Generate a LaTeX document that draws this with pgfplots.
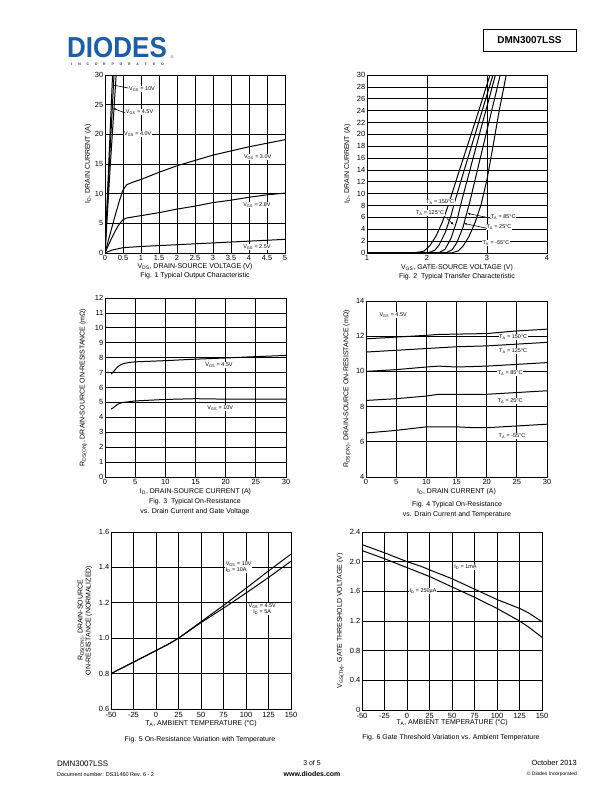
\documentclass[border=0pt]{standalone}
\usepackage{fontspec}
\setmainfont{Liberation Sans}
\usepackage{pgfplots}
\pgfplotsset{compat=1.18}
\usetikzlibrary{arrows.meta}
\definecolor{diodesblue}{HTML}{1D5FA6}

\pgfplotsset{
  sheet/.style={
    scale only axis, anchor=south west,
    grid=major,
    major grid style={black, line width=0.7pt},
    axis line style={black, line width=0.8pt},
    tick style={draw=none},
    tick label style={font=\fontsize{7.5}{8}\selectfont, inner sep=1.5pt},
    xticklabel style={yshift=-1pt},
    label style={font=\fontsize{7}{8}\selectfont},
    /pgf/number format/assume math mode=true,
    every axis plot post/.append style={black, solid, line width=1pt, mark=none},
  }
}
\tikzset{
  lbl/.style={font=\fontsize{5.5}{6}\selectfont, fill=white, inner sep=0.6pt},
  arr/.style={-{Latex[length=3pt,width=2.2pt]}, line width=0.6pt},
  figcap/.style={font=\fontsize{7}{8}\selectfont, inner sep=0pt},
}

\begin{document}
\begin{tikzpicture}
\fill[white] (0,0) rectangle (612bp,-792bp);

% header
\node[anchor=south west, inner sep=0, text=diodesblue, font=\fontsize{29}{29}\bfseries\selectfont, xscale=0.9] at (67bp,-58bp) {DIODES};
\foreach \c [count=\i] in {I,N,C,O,R,P,O,R,A,T,E,D}
  \node[font=\fontsize{3.5}{4}\bfseries\selectfont, text=black!80, inner sep=0] at ({(63+8.3*\i)*1bp}, -64bp) {\c};
\node[font=\fontsize{4}{4}\selectfont, text=diodesblue, inner sep=0] at (172bp,-57bp) {®};
\node[draw, line width=0.8pt, minimum width=93bp, minimum height=22bp, inner sep=0,
      font=\fontsize{10}{12}\bfseries\selectfont] at (529.5bp,-40bp) {DMN3007LSS};

% Fig 1
\begin{axis}[sheet, at={(105bp,-253bp)}, width=180bp, height=178bp,
  xmin=0, xmax=5, ymin=0, ymax=30,
  xtick={0,0.5,1,1.5,2,2.5,3,3.5,4,4.5,5}, xticklabels={0,0.5,1,1.5,2,2.5,3,3.5,4,4.5,5},
  ytick={0,5,10,15,20,25,30},
  xlabel={V\textsubscript{DS}, DRAIN-SOURCE VOLTAGE (V)},
  ylabel={I\textsubscript{D}, DRAIN CURRENT (A)},
  xlabel style={at={(axis description cs:0.5,-0.079)}, anchor=center},
  ylabel style={at={(axis description cs:-0.094,0.5)}, anchor=center},
]
\addplot coordinates {(0,0) (0.1,14.5) (0.21,30)};
\addplot coordinates {(0,0) (0.12,14.8) (0.25,30)};
\addplot coordinates {(0,0) (0.15,15) (0.31,30)};
\addplot coordinates {(0,0) (0.1,2.3) (0.2,4.5) (0.3,6.7) (0.4,8.8) (0.5,10.6) (0.6,11.5) (0.8,12.0) (1,12.4) (1.5,13.6) (2,14.7) (2.5,15.6) (3,16.5) (3.5,17.2) (4,17.9) (4.5,18.5) (5,19.1)};
\addplot coordinates {(0,0) (0.1,1.4) (0.2,2.7) (0.3,3.9) (0.4,4.9) (0.5,5.6) (0.6,5.9) (1,6.3) (1.5,6.8) (2,7.4) (2.5,7.9) (3,8.5) (3.5,8.9) (4,9.4) (4.5,9.8) (5,10.1)};
\addplot coordinates {(0,0) (0.2,0.5) (0.5,0.9) (1,1.1) (2,1.4) (3,1.7) (4,2.0) (5,2.3)};
\node[lbl, anchor=west] at (axis cs:0.65,27.6) {V\textsubscript{GS} = 10V};
\node[lbl, anchor=west] at (axis cs:0.56,23.8) {V\textsubscript{GS} = 4.5V};
\node[lbl, anchor=west] at (axis cs:0.51,20.0) {V\textsubscript{GS} = 4.0V};
\draw[arr] (axis cs:0.65,27.8) -- (axis cs:0.23,28.3);
\draw[arr] (axis cs:0.56,23.6) -- (axis cs:0.22,24.4);
\node[lbl] at (axis cs:4.24,16.2) {V\textsubscript{GS} = 3.0V};
\node[lbl] at (axis cs:4.22,8.1) {V\textsubscript{GS} = 2.8V};
\node[lbl] at (axis cs:4.22,1.0) {V\textsubscript{GS} = 2.5V};
\end{axis}
\node[figcap] at (195bp,-276bp) {Fig. 1 Typical Output Characteristic};

% Fig 2
\begin{axis}[sheet, at={(367bp,-253bp)}, width=180bp, height=178bp,
  xmin=1, xmax=4, ymin=0, ymax=30,
  xtick={1,2,3,4}, ytick={0,2,...,30},
  xlabel={V\textsubscript{GS}, GATE-SOURCE VOLTAGE (V)},
  ylabel={I\textsubscript{D}, DRAIN CURRENT (A)},
  xlabel style={at={(axis description cs:0.5,-0.084)}, anchor=center},
  ylabel style={at={(axis description cs:-0.11,0.5)}, anchor=center},
]
\addplot coordinates {(1,0.05) (1.5,0.05) (1.8,0.08) (1.9,0.2) (1.95,0.32) (2.05,1.27) (2.15,2.85) (2.25,5.07) (2.35,7.9) (2.45,11.1) (2.6,15.8) (2.8,22.0) (3.0,28.4) (3.05,30)};
\addplot coordinates {(1,0.03) (1.9,0.05) (2.03,0.08) (2.13,0.46) (2.2,1.33) (2.3,3.35) (2.4,6.3) (2.47,8.9) (2.6,13.3) (2.8,19.95) (3.0,26.7) (3.1,30)};
\addplot coordinates {(1,0.02) (2.1,0.04) (2.2,0.06) (2.3,0.62) (2.4,2.46) (2.5,5.5) (2.58,8.9) (2.7,13.4) (2.9,21.0) (3.05,26.6) (3.14,30)};
\addplot coordinates {(1,0.02) (2.2,0.03) (2.32,0.05) (2.42,0.56) (2.5,1.8) (2.6,4.36) (2.72,8.9) (2.85,14.4) (3.0,20.7) (3.15,27.0) (3.22,30)};
\addplot coordinates {(1,0.01) (2.3,0.02) (2.42,0.04) (2.52,0.36) (2.6,1.15) (2.7,2.8) (2.8,5.1) (2.9,8.1) (3.0,12.4) (3.1,18.0) (3.2,23.8) (3.32,30)};
\node[lbl] at (axis cs:2.22,8.65) {T\textsubscript{A} = 150°C};
\node[lbl] at (axis cs:2.05,6.69) {T\textsubscript{A} = 125°C};
\node[lbl] at (axis cs:3.27,6.1) {T\textsubscript{A} = 85°C};
\node[lbl] at (axis cs:3.2,4.43) {T\textsubscript{A} = 25°C};
\node[lbl] at (axis cs:3.15,1.63) {T\textsubscript{A} = -55°C};
\draw[arr] (axis cs:2.33,5.85) -- (axis cs:2.45,4.72);
\draw[arr] (axis cs:3.07,5.85) -- (axis cs:2.67,6.69);
\draw[arr] (axis cs:3.0,4.16) -- (axis cs:2.61,5.0);
\end{axis}
\node[figcap] at (457bp,-277bp) {Fig. 2\ \ Typical Transfer Characteristic};

% Fig 3
\begin{axis}[sheet, at={(105bp,-477bp)}, width=181bp, height=179bp,
  xmin=0, xmax=30, ymin=0, ymax=12,
  xtick={0,5,...,30}, ytick={0,1,...,12},
  xlabel={I\textsubscript{D}, DRAIN-SOURCE CURRENT (A)},
  ylabel={R\textsubscript{DS(ON)}, DRAIN-SOURCE ON-RESISTANCE (mΩ)},
  xlabel style={at={(axis description cs:0.5,-0.084)}, anchor=center},
  ylabel style={at={(axis description cs:-0.12,0.5)}, anchor=center},
]
\addplot coordinates {(1,6.9) (1.5,7.1) (2,7.35) (2.5,7.5) (3,7.6) (4,7.68) (5,7.72) (7.5,7.76) (10,7.8) (15,7.9) (20,7.98) (25,8.07) (30,8.15)};
\addplot coordinates {(1,4.55) (1.5,4.68) (2,4.85) (2.5,4.95) (3,5.0) (4,5.05) (5,5.1) (10,5.2) (15,5.25) (20,5.22) (25,5.22) (30,5.22)};
\node[lbl] at (axis cs:18.9,7.5) {V\textsubscript{GS} = 4.5V};
\node[lbl] at (axis cs:19.1,4.62) {V\textsubscript{GS} = 10V};
\end{axis}
\node[figcap] at (195bp,-502bp) {Fig. 3\ \ Typical On-Resistance};
\node[figcap] at (195bp,-512bp) {vs. Drain Current and Gate Voltage};

% Fig 4
\begin{axis}[sheet, at={(366bp,-477bp)}, width=181bp, height=176bp,
  xmin=0, xmax=30, ymin=4, ymax=14,
  xtick={0,5,...,30}, ytick={4,6,...,14},
  xlabel={I\textsubscript{D}, DRAIN CURRENT (A)},
  ylabel={R\textsubscript{DS(ON)}, DRAIN-SOURCE ON-RESISTANCE (mΩ)},
  xlabel style={at={(axis description cs:0.5,-0.085)}, anchor=center},
  ylabel style={at={(axis description cs:-0.105,0.5)}, anchor=center},
]
\addplot coordinates {(0,11.85) (5,11.95) (10,12.05) (12,12.1) (20,12.15) (25,12.3) (30,12.4)};
\addplot coordinates {(0,11.1) (5,11.2) (10,11.3) (15,11.4) (20,11.45) (25,11.55) (30,11.65)};
\addplot coordinates {(0,10.0) (5,10.1) (10,10.25) (12,10.3) (15,10.25) (20,10.3) (25,10.4) (30,10.5)};
\addplot coordinates {(0,8.35) (5,8.45) (10,8.6) (12,8.7) (20,8.7) (25,8.8) (30,8.9)};
\addplot coordinates {(0,6.5) (5,6.65) (10,6.85) (15,6.85) (18,6.8) (20,6.8) (25,6.9) (30,7.0)};
\node[lbl] at (axis cs:4.5,13.2) {V\textsubscript{GS} = 4.5V};
\node[lbl] at (axis cs:24.4,11.95) {T\textsubscript{A} = 150°C};
\node[lbl] at (axis cs:24.4,11.16) {T\textsubscript{A} = 125°C};
\node[lbl] at (axis cs:23.9,9.9) {T\textsubscript{A} = 85°C};
\node[lbl] at (axis cs:23.9,8.3) {T\textsubscript{A} = 25°C};
\node[lbl] at (axis cs:24.2,6.33) {T\textsubscript{A} = -55°C};
\end{axis}
\node[figcap] at (457bp,-505bp) {Fig. 4 Typical On-Resistance};
\node[figcap] at (457bp,-515bp) {vs. Drain Current and Temperature};

% Fig 5
\begin{axis}[sheet, at={(111bp,-709bp)}, width=180bp, height=177bp,
  xmin=-50, xmax=150, ymin=0.6, ymax=1.6,
  xtick={-50,-25,...,150}, ytick={0.6,0.8,...,1.6},
  xticklabel style={yshift=-1pt},
  yticklabel style={/pgf/number format/.cd, fixed, fixed zerofill, precision=1},
  xlabel={T\textsubscript{A}, AMBIENT TEMPERATURE (°C)},
  ylabel={R\textsubscript{DS(ON)}, DRAIN-SOURCE\\ON-RESISTANCE (NORMALIZED)},
  xlabel style={at={(axis description cs:0.5,-0.085)}, anchor=center},
  ylabel style={at={(axis description cs:-0.145,0.5)}, anchor=center, align=center},
]
\addplot coordinates {(-50,0.8) (-25,0.865) (0,0.93) (15,0.97) (25,1.0) (50,1.093) (75,1.185) (100,1.282) (125,1.38) (150,1.475)};
\addplot coordinates {(-50,0.8) (-25,0.865) (0,0.93) (15,0.97) (25,1.0) (50,1.088) (75,1.17) (100,1.255) (125,1.343) (150,1.435)};
\node[lbl, align=left, anchor=west] at (axis cs:76.7,1.4) {V\textsubscript{GS} = 10V\\I\textsubscript{D} = 10A};
\node[lbl, align=center, anchor=west] at (axis cs:102,1.165) {V\textsubscript{GS} = 4.5V\\I\textsubscript{D} = 5A};
\end{axis}
\node[figcap] at (200bp,-740bp) {Fig. 5 On-Resistance Variation with Temperature};

% Fig 6
\begin{axis}[sheet, at={(362bp,-710bp)}, width=180bp, height=178bp,
  xmin=-50, xmax=150, ymin=0, ymax=2.4,
  xtick={-50,-25,...,150}, ytick={0,0.4,0.8,1.2,1.6,2.0,2.4},
  yticklabels={0,0.4,0.8,1.2,1.6,2.0,2.4},
  xticklabel style={yshift=-1pt},
  xlabel={T\textsubscript{A}, AMBIENT TEMPERATURE (°C)},
  ylabel={V\textsubscript{GS(TH)}, GATE THRESHOLD VOLTAGE (V)},
  xlabel style={at={(axis description cs:0.5,-0.073)}, anchor=center},
  ylabel style={at={(axis description cs:-0.12,0.5)}, anchor=center},
]
\addplot coordinates {(-50,2.23) (-25,2.12) (0,2.0) (15,1.94) (25,1.89) (50,1.77) (75,1.63) (100,1.49) (125,1.37) (135,1.31) (150,1.19)};
\addplot coordinates {(-50,2.15) (-25,2.04) (0,1.92) (25,1.8) (50,1.66) (75,1.52) (100,1.37) (125,1.2) (135,1.12) (150,0.98)};
\node[lbl] at (axis cs:65,1.93) {I\textsubscript{D} = 1mA};
\node[lbl] at (axis cs:17.8,1.6) {I\textsubscript{D} = 250µA};
\end{axis}
\node[figcap] at (451bp,-738bp) {Fig. 6 Gate Threshold Variation vs. Ambient Temperature};

% footer
\node[anchor=base west, inner sep=0, font=\fontsize{8}{9}\selectfont] at (57bp,-766bp) {DMN3007LSS};
\node[anchor=base west, inner sep=0, font=\fontsize{5.5}{6}\selectfont] at (57bp,-776bp) {Document number: DS31460 Rev. 6 - 2};
\node[anchor=base, inner sep=0, font=\fontsize{7}{8}\selectfont] at (312bp,-765bp) {3 of 5};
\node[anchor=base, inner sep=0, font=\fontsize{7}{8}\bfseries\selectfont] at (312bp,-776bp) {www.diodes.com};
\node[anchor=base east, inner sep=0, font=\fontsize{7.5}{8}\selectfont] at (577bp,-765bp) {October 2013};
\node[anchor=base east, inner sep=0, font=\fontsize{5}{6}\selectfont] at (577bp,-775bp) {© Diodes Incorporated};
\end{tikzpicture}
\end{document}
